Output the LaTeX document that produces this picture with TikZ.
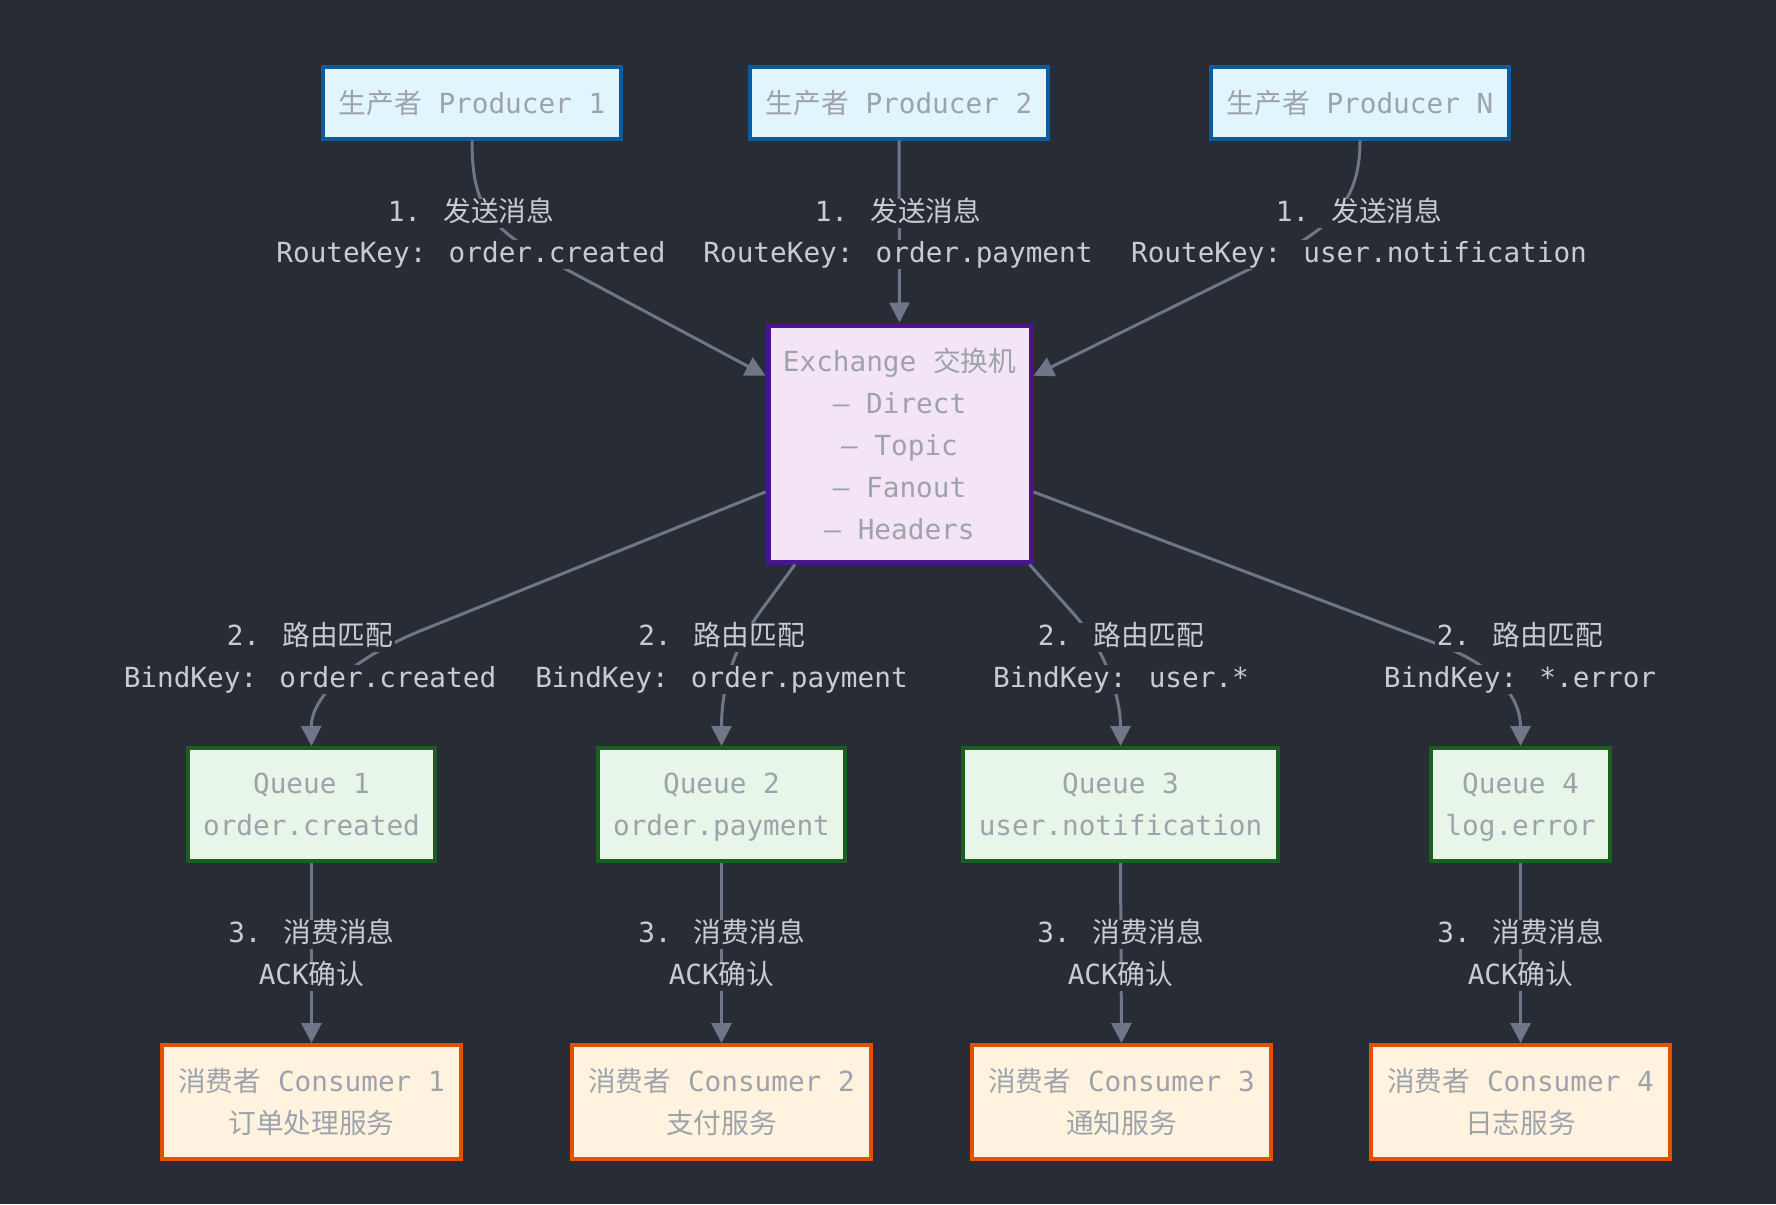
\documentclass[tikz,border=0pt]{standalone}
\usepackage{fontspec}
\setmainfont{DejaVu Sans Mono}
\newfontfamily\cjk{Noto Sans CJK SC}
\usetikzlibrary{arrows.meta,calc}

\definecolor{bgc}{HTML}{282C34}
\definecolor{edgec}{HTML}{6E7687}
\definecolor{nodetext}{HTML}{9EA3AB}
\definecolor{labeltext}{HTML}{C8CCD2}
\definecolor{prodfill}{HTML}{E1F5FE}
\definecolor{prodline}{HTML}{0D5A9E}
\definecolor{exfill}{HTML}{F3E5F5}
\definecolor{exline}{HTML}{4A148C}
\definecolor{qfill}{HTML}{E8F5E9}
\definecolor{qline}{HTML}{1B5E20}
\definecolor{cfill}{HTML}{FFF3E0}
\definecolor{cline}{HTML}{E65100}

\newcommand\zh[1]{{\cjk #1}}
% last line of a box without descender depth, so every box centres alike
\newcommand\nodp[1]{\raisebox{0pt}[\height][0pt]{#1}}

\begin{document}
\begin{tikzpicture}[x=1pt,y=-1pt,
  font=\fontsize{27.7}{42}\selectfont,
  box/.style={draw, line width=4pt, text=nodetext, align=center, inner sep=0pt},
  prod/.style={box, fill=prodfill, draw=prodline, minimum width=298pt, minimum height=71pt},
  exch/.style={box, fill=exfill, draw=exline, line width=5pt, minimum width=263pt, minimum height=237pt},
  queue/.style={box, fill=qfill, draw=qline, minimum height=113pt},
  cons/.style={box, fill=cfill, draw=cline, minimum width=299pt, minimum height=114pt},
  lbl/.style={fill=bgc, text=labeltext, inner xsep=2pt, inner ysep=0pt, text height=22pt, text depth=7pt},
  flow/.style={draw=edgec, line width=3pt, -{Triangle[length=20pt,width=20pt]}}]

% canvas
\fill[bgc] (0,0) rectangle (1776,1204);
\useasboundingbox (0,0) rectangle (1776,1204);

% producers
\node[prod] (p1) at (472,103) {\zh{生产者} Producer 1};
\node[prod] (p2) at (899,103) {\zh{生产者} Producer 2};
\node[prod] (pn) at (1360,103) {\zh{生产者} Producer N};

% exchange
\node[exch] (ex) at (899.5,443.5) {Exchange \zh{交换机}\\– Direct\\– Topic\\– Fanout\\\nodp{– Headers}};

% queues
\node[queue, minimum width=247pt] (q1) at (311.5,804.5) {Queue 1\\\nodp{order.created}};
\node[queue, minimum width=247pt] (q2) at (721.5,804.5) {Queue 2\\\nodp{order.payment}};
\node[queue, minimum width=315pt] (q3) at (1120.5,804.5) {Queue 3\\\nodp{user.notification}};
\node[queue, minimum width=179pt] (q4) at (1520.5,804.5) {Queue 4\\\nodp{log.error}};

% consumers
\node[cons] (c1) at (311.5,1102) {\zh{消费者} Consumer 1\\\zh{订单处理服务}};
\node[cons] (c2) at (721.5,1102) {\zh{消费者} Consumer 2\\\zh{支付服务}};
\node[cons] (c3) at (1121.5,1102) {\zh{消费者} Consumer 3\\\zh{通知服务}};
\node[cons] (c4) at (1520.5,1102) {\zh{消费者} Consumer 4\\\zh{日志服务}};

% producer -> exchange
\draw[flow] (p1.south) .. controls (472,200) and (485,226) .. (545,258)
  -- ($(ex.north west)!0.22!(ex.south west)$);
\draw[flow] (p2.south) -- (ex.north);
\draw[flow] (pn.south) .. controls (1360,200) and (1334,226) .. (1272,258)
  -- ($(ex.north east)!0.22!(ex.south east)$);

% exchange -> queues
\draw[flow] ($(ex.north west)!0.70!(ex.south west)$) -- (420,631)
  .. controls (345,662) and (311,700) .. (q1.north);
\draw[flow] ($(ex.south west)!0.11!(ex.south east)$) -- (760,612)
  .. controls (727,657) and (721.5,700) .. (q2.north);
\draw[flow] ($(ex.south west)!0.985!(ex.south east)$) -- (1072,612)
  .. controls (1108,652) and (1120.5,700) .. (q3.north);
\draw[flow] ($(ex.north east)!0.70!(ex.south east)$) -- (1440,645)
  .. controls (1500,668) and (1520.5,700) .. (q4.north);

% queues -> consumers
\draw[flow] (q1.south) -- (c1.north);
\draw[flow] (q2.south) -- (c2.north);
\draw[flow] (q3.south) -- (c3.north);
\draw[flow] (q4.south) -- (c4.north);

% edge labels
\node[lbl] (s1a) at (471,213.5) {1. \zh{发送消息}};
\node[lbl] (s1b) at (471,254.5) {RouteKey: order.created};
\node[lbl] (s2a) at (898,213.5) {1. \zh{发送消息}};
\node[lbl] (s2b) at (898,254.5) {RouteKey: order.payment};
\node[lbl] (s3a) at (1359,213.5) {1. \zh{发送消息}};
\node[lbl] (s3b) at (1359,254.5) {RouteKey: user.notification};

\node[lbl] (r1a) at (310,637.5) {2. \zh{路由匹配}};
\node[lbl] (r1b) at (310,679.5) {BindKey: order.created};
\node[lbl] (r2a) at (721.5,637.5) {2. \zh{路由匹配}};
\node[lbl] (r2b) at (721.5,679.5) {BindKey: order.payment};
\node[lbl] (r3a) at (1121,637.5) {2. \zh{路由匹配}};
\node[lbl] (r3b) at (1121,679.5) {BindKey: user.*};
\node[lbl] (r4a) at (1520,637.5) {2. \zh{路由匹配}};
\node[lbl] (r4b) at (1520,679.5) {BindKey: *.error};

\node[lbl] (k1a) at (311.5,934.5) {3. \zh{消费消息}};
\node[lbl] (k1b) at (311.5,976.5) {ACK\zh{确认}};
\node[lbl] (k2a) at (721.5,934.5) {3. \zh{消费消息}};
\node[lbl] (k2b) at (721.5,976.5) {ACK\zh{确认}};
\node[lbl] (k3a) at (1120.5,934.5) {3. \zh{消费消息}};
\node[lbl] (k3b) at (1120.5,976.5) {ACK\zh{确认}};
\node[lbl] (k4a) at (1520.5,934.5) {3. \zh{消费消息}};
\node[lbl] (k4b) at (1520.5,976.5) {ACK\zh{确认}};
\end{tikzpicture}
\end{document}
